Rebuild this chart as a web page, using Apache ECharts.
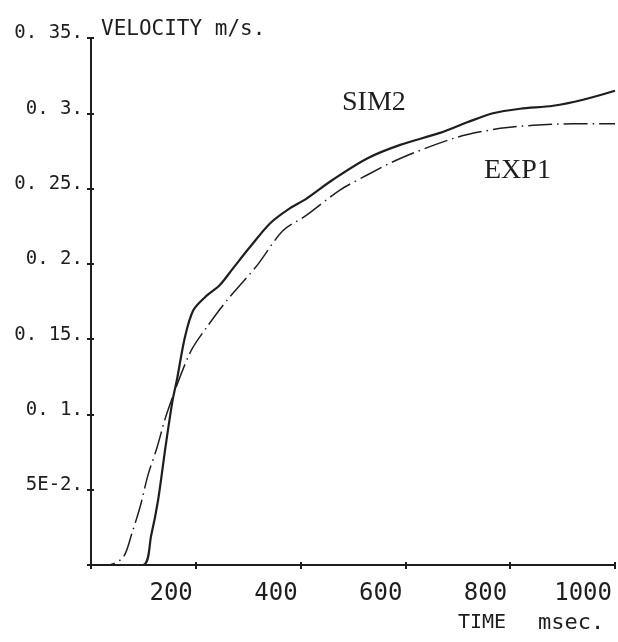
<!DOCTYPE html>
<html>
<head>
<meta charset="utf-8">
<script src="https://cdn.jsdelivr.net/npm/echarts@6/dist/echarts.min.js"></script>
<style>
  html, body { margin: 0; padding: 0; background: #fff; }
  #main { width: 618px; height: 642px; }
</style>
</head>
<body>
<div id="main"></div>
<script>
// 曲线数据
const simTime = [0, 99, 115, 128, 142, 156, 164, 179, 195, 218, 246, 271, 303, 342, 380, 410, 462, 527, 590, 666, 718, 767, 819, 882, 939, 1000];
const simVel = [0, 0, 0.02, 0.043, 0.078, 0.11, 0.123, 0.151, 0.169, 0.178, 0.186, 0.197, 0.211, 0.227, 0.237, 0.243, 0.256, 0.27, 0.279, 0.287, 0.294, 0.3, 0.303, 0.305, 0.309, 0.315];
const expTime = [0, 30, 61, 78, 94, 109, 126, 145, 189, 221, 260, 317, 366, 410, 475, 527, 590, 698, 781, 844, 920, 1000];
const expVel = [0, 0, 0.005, 0.021, 0.039, 0.06, 0.078, 0.101, 0.141, 0.158, 0.176, 0.199, 0.222, 0.232, 0.249, 0.259, 0.27, 0.284, 0.29, 0.292, 0.293, 0.293];
// 坐标轴刻度
const xTicks = [200, 400, 600, 800, 1000];
const yTickValues = [0.05, 0.1, 0.15, 0.2, 0.25, 0.3, 0.35];
const yTickLabels = ['5E-2.', '0. 1.', '0. 15.', '0. 2.', '0. 25.', '0. 3.', '0. 35.'];

const ink = '#1e1e1e';
const mono = 'DejaVu Sans Mono';

const pair = (xs, ys) => xs.map((x, i) => [x, ys[i]]);

const chartDom = document.getElementById('main');
const myChart = echarts.init(chartDom);

// 外侧刻度+标签轴 / 内侧刻度轴（做出十字刻度）
const baseX = {
    type: 'value', min: 0, max: 1000, interval: 200,
    splitLine: { show: false }
};
const baseY = {
    type: 'value', min: 0, max: 0.35, interval: 0.05,
    splitLine: { show: false }
};

const option = {
    backgroundColor: '#fff',
    animation: false,
    grid: {
        left: 91,
        right: 3,
        top: 38,
        bottom: 77,
        containLabel: false,
        outerBoundsMode: 'none'
    },
    xAxis: [
        {
            ...baseX,
            axisLine: { lineStyle: { color: ink, width: 2 } },
            axisTick: { show: true, length: 4, lineStyle: { color: ink, width: 2 } },
            axisLabel: {
                color: ink,
                fontFamily: mono,
                fontSize: 24,
                margin: 17,
                align: 'right',
                padding: [0, 3, 0, 0],
                formatter: (v) => xTicks.indexOf(v) >= 0 ? String(v) : ''
            }
        },
        {
            ...baseX,
            position: 'bottom',
            axisLine: { show: false },
            axisTick: { show: true, inside: true, length: 3, lineStyle: { color: ink, width: 2 } },
            axisLabel: { show: false }
        }
    ],
    yAxis: [
        {
            ...baseY,
            axisLine: { show: true, lineStyle: { color: ink, width: 2 } },
            axisTick: { show: true, length: 4, lineStyle: { color: ink, width: 2 } },
            axisLabel: {
                color: ink,
                fontFamily: mono,
                fontSize: 19,
                margin: 8,
                verticalAlign: 'bottom',
                lineHeight: 9,
                formatter: (v) => {
                    const i = yTickValues.findIndex((t) => Math.abs(t - v) < 1e-6);
                    return i >= 0 ? yTickLabels[i] : '';
                }
            }
        },
        {
            ...baseY,
            position: 'left',
            axisLine: { show: false },
            axisTick: { show: true, inside: true, length: 3, lineStyle: { color: ink, width: 2 } },
            axisLabel: { show: false }
        }
    ],
    graphic: [
        { type: 'text', left: 101, top: 19, style: { text: 'VELOCITY m/s.', font: '21px "DejaVu Sans Mono"', fill: ink } },
        { type: 'text', left: 458, top: 613, style: { text: 'TIME', font: '20px "DejaVu Sans Mono"', fill: ink } },
        { type: 'text', left: 538, top: 612, style: { text: 'msec.', font: '22px "DejaVu Sans Mono"', fill: ink } },
        { type: 'text', left: 342, top: 89, style: { text: 'SIM2', font: '28px "Liberation Serif"', fill: ink } },
        { type: 'text', left: 484, top: 157, style: { text: 'EXP1', font: '28px "Liberation Serif"', fill: ink } }
    ],
    series: [
        {
            name: 'SIM2',
            type: 'line',
            data: pair(simTime, simVel),
            smooth: 0.3,
            showSymbol: false,
            lineStyle: { color: ink, width: 2.2 }
        },
        {
            name: 'EXP1',
            type: 'line',
            data: pair(expTime, expVel),
            smooth: 0.3,
            showSymbol: false,
            lineStyle: { color: ink, width: 1.5, type: [24, 5, 1.5, 5] }
        }
    ]
};
myChart.setOption(option);
</script>
</body>
</html>
